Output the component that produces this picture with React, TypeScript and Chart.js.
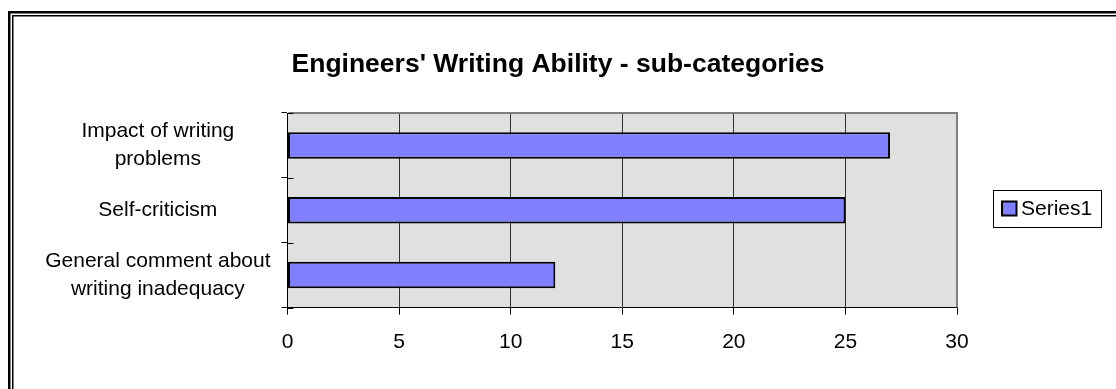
import React, { useEffect, useRef } from "react";
import { Chart, registerables } from "chart.js";

Chart.register(...registerables);

const titleText = "Engineers' Writing Ability - sub-categories";
const categories: string[][] = [
  ["Impact of writing", "problems"],
  ["Self-criticism"],
  ["General comment about", "writing inadequacy"],
];
const seriesName = "Series1";
const seriesValues = [27, 25, 12];
const xMin = 0;
const xMax = 30;
const xStep = 5;

const FONT = "'Liberation Sans', Arial, Helvetica, sans-serif";
const BAR_COLOR = "#8080FF";
const PLOT_BG = "#E0E0E0";

const W = 1116;
const H = 389;

const framePlugin = {
  id: "frame",
  beforeDraw(chart: any) {
    const { ctx, chartArea } = chart;
    ctx.save();
    ctx.fillStyle = "#FFFFFF";
    ctx.fillRect(0, 0, chart.width, chart.height);
    // double outer border (continues past the right/bottom edges)
    ctx.strokeStyle = "#000000";
    ctx.lineWidth = 2.5;
    ctx.strokeRect(9.25, 12.25, chart.width + 20, chart.height + 20);
    ctx.lineWidth = 1.5;
    ctx.strokeRect(12.75, 15.75, chart.width + 20, chart.height + 20);
    // plot background
    ctx.fillStyle = PLOT_BG;
    ctx.fillRect(
      chartArea.left,
      chartArea.top,
      chartArea.right - chartArea.left,
      chartArea.bottom - chartArea.top
    );
    // title, centred on the whole chart
    ctx.fillStyle = "#000000";
    ctx.font = `bold 26.5px ${FONT}`;
    ctx.textAlign = "center";
    ctx.textBaseline = "alphabetic";
    ctx.fillText(titleText, chart.width / 2, 71.5);
    ctx.restore();
  },
  afterDraw(chart: any) {
    const { ctx, chartArea } = chart;
    ctx.save();
    // plot border top/right in gray
    ctx.strokeStyle = "#808080";
    ctx.lineWidth = 2;
    ctx.beginPath();
    ctx.moveTo(chartArea.left + 1, chartArea.top);
    ctx.lineTo(chartArea.right, chartArea.top);
    ctx.lineTo(chartArea.right, chartArea.bottom);
    ctx.stroke();
    // inner part of category tick marks
    const ys = chart.scales.y;
    const n = chart.data.labels.length;
    ctx.strokeStyle = "#000000";
    ctx.lineWidth = 1;
    for (let i = 0; i <= n; i++) {
      const y = Math.round(ys.top + (i * (ys.bottom - ys.top)) / n) + 0.5;
      ctx.beginPath();
      ctx.moveTo(chartArea.left, y);
      ctx.lineTo(chartArea.left + 6, y);
      ctx.stroke();
    }
    // legend
    const ds = chart.data.datasets[0];
    const bx = 993.5, by = 190.5, bw = 108, bh = 37;
    ctx.fillStyle = "#FFFFFF";
    ctx.fillRect(bx, by, bw, bh);
    ctx.strokeStyle = "#000000";
    ctx.lineWidth = 1;
    ctx.strokeRect(bx, by, bw, bh);
    ctx.fillStyle = ds.backgroundColor;
    ctx.fillRect(1002, 201.5, 14.5, 14);
    ctx.lineWidth = 2;
    ctx.strokeRect(1002, 201.5, 14.5, 14);
    ctx.fillStyle = "#000000";
    ctx.font = `21px ${FONT}`;
    ctx.textAlign = "left";
    ctx.textBaseline = "middle";
    ctx.fillText(ds.label, 1021, 209);
    ctx.restore();
  },
};

export default function App() {
  const canvasRef = useRef<HTMLCanvasElement | null>(null);

  useEffect(() => {
    const canvas = canvasRef.current;
    if (!canvas) return;
    const chart = new Chart(canvas, {
      type: "bar",
      data: {
        labels: categories,
        datasets: [
          {
            label: seriesName,
            data: seriesValues,
            backgroundColor: BAR_COLOR,
            borderColor: "#000000",
            borderWidth: 2,
            borderSkipped: false,
            categoryPercentage: 1,
            barPercentage: 0.41,
          },
        ],
      },
      options: {
        indexAxis: "y",
        responsive: false,
        animation: false,
        layout: {
          padding: { left: 0, right: 159, top: 113, bottom: 31.5 },
        },
        plugins: {
          legend: { display: false },
          tooltip: { enabled: false },
          title: { display: false },
        },
        scales: {
          x: {
            type: "linear",
            min: xMin,
            max: xMax,
            ticks: {
              stepSize: xStep,
              color: "#000000",
              padding: 15,
              font: { family: FONT, size: 21 },
            },
            grid: {
              color: "#333333",
              lineWidth: 1,
              drawOnChartArea: true,
              drawTicks: true,
              tickLength: 7,
              tickColor: "#000000",
            },
            border: { display: true, color: "#000000", width: 1 },
            afterFit: (scale: any) => {
              scale.height = 50;
            },
          },
          y: {
            type: "category",
            offset: true,
            ticks: {
              color: "#000000",
              padding: 11,
              crossAlign: "center",
              font: { family: FONT, size: 21, lineHeight: 1.32 },
            },
            grid: {
              offset: true,
              drawOnChartArea: false,
              drawTicks: true,
              tickLength: 6,
              tickColor: "#000000",
            },
            border: { display: true, color: "#000000", width: 1 },
            afterFit: (scale: any) => {
              scale.width = 287.5;
            },
          },
        },
      },
      plugins: [framePlugin],
    });
    return () => chart.destroy();
  }, []);

  return (
    <div style={{ position: "absolute", left: 0, top: 0, width: W, height: H, background: "#fff" }}>
      <canvas ref={canvasRef} width={W} height={H} style={{ display: "block" }} />
    </div>
  );
}
